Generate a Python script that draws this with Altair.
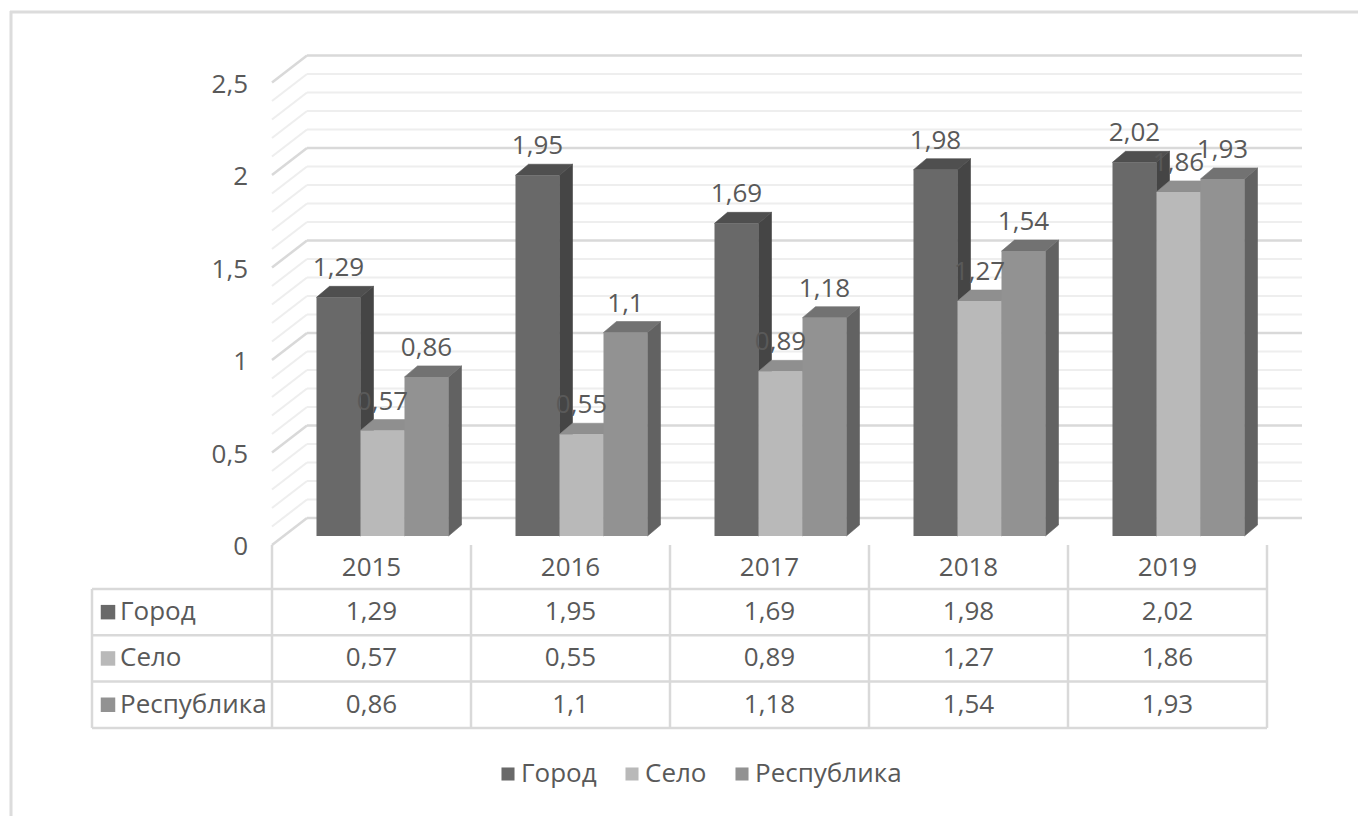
import altair as alt
import pandas as pd

# ---------------- data ----------------
years = ['2015', '2016', '2017', '2018', '2019']
series = ['Город', 'Село', 'Республика']
gorod = [1.29, 1.95, 1.69, 1.98, 2.02]
selo = [0.57, 0.55, 0.89, 1.27, 1.86]
respublika = [0.86, 1.1, 1.18, 1.54, 1.93]
axis_ticks = [0, 0.5, 1, 1.5, 2, 2.5]
axis_labels = ['0', '0,5', '1', '1,5', '2', '2,5']
grid_values = [round(k * 0.1, 1) for k in range(26)]

values_by_series = [gorod, selo, respublika]

# ---------------- style ----------------
front_colors = ['#696969', '#b9b9b9', '#929292']
top_colors = ['#4f4f4f', '#8f8f8f', '#727272']
side_colors = ['#454545', '#8a8a8a', '#626262']
TEXT = '#595959'
GRID_MAJOR = '#d9d9d9'
GRID_MINOR = '#eeeeee'
LINE = '#d9d9d9'
FONT = 'Open Sans'
FS = 26

W, H = 1358, 816
PX_X = 199.0      # pixels per category
PX_Y = 185.0      # pixels per value unit
X0_PX, Y0_PX = 283.0, 536.0


def ux(px):
    return (px - X0_PX) / PX_X


def vy(py):
    return (Y0_PX - py) / PX_Y


xs = alt.Scale(domain=[ux(0), ux(W)], nice=False, zero=False)
ys = alt.Scale(domain=[vy(H), vy(0)], nice=False, zero=False)

BW = 44 / PX_X          # bar width
DX, DY = 13 / PX_X, 11 / PX_Y   # bar depth
FX, FY = -11 / PX_X, 9 / PX_Y   # front plane offset (FY downward)
BX, BY = 24 / PX_X, 18 / PX_Y   # back wall offset
LBL = 29 / PX_Y

# ---------------- build tables ----------------
front_rows, side_rows, top_rows, label_rows = [], [], [], []
for i, yr in enumerate(years):
    for j, s in enumerate(series):
        v = values_by_series[j][i]
        x0 = i + 0.5 - 1.5 * BW + j * BW
        x1 = x0 + BW
        bid = f'{i}-{j}'
        front_rows.append(dict(series=s, x0=x0, x1=x1, lo=0.0, hi=v))
        side_rows.append(dict(bid=bid, c=side_colors[j], x=x1, lo=0.0, hi=v))
        side_rows.append(dict(bid=bid, c=side_colors[j], x=x1 + DX, lo=DY, hi=v + DY))
        top_rows.append(dict(bid=bid, c=top_colors[j], y=v, xa=x0, xb=x1))
        top_rows.append(dict(bid=bid, c=top_colors[j], y=v + DY, xa=x0 + DX, xb=x1 + DX))
        label_rows.append(dict(x=(x0 + x1) / 2, y=v + LBL, t=str(v).replace('.', ',')))

df_front = pd.DataFrame(front_rows)
df_side = pd.DataFrame(side_rows)
df_top = pd.DataFrame(top_rows)
df_lbl = pd.DataFrame(label_rows)

df_grid = pd.DataFrame({'v': grid_values})
df_grid['major'] = [k % 5 == 0 for k in range(len(grid_values))]
df_grid['xf'] = FX
df_grid['yf'] = df_grid['v'] - FY
df_grid['xb'] = BX
df_grid['xe'] = len(years) + BX
df_grid['yb'] = df_grid['v'] + BY

df_ticks = pd.DataFrame({'v': axis_ticks, 't': axis_labels})
df_ticks['x'] = ux(248)
df_ticks['y'] = df_ticks['v'] - FY

# table geometry
ROW_TOP = 589.0
ROW_H = 46.3
TBL_LEFT = ux(92)
TBL_RIGHT = len(years) + FX
row_bounds = [vy(ROW_TOP + k * ROW_H) for k in range(len(series) + 1)]

df_hlines = pd.DataFrame({'y': row_bounds, 'xa': TBL_LEFT, 'xb': TBL_RIGHT})
vl = [dict(x=k + FX, ya=-FY, yb=row_bounds[-1]) for k in range(len(years) + 1)]
vl.append(dict(x=TBL_LEFT, ya=row_bounds[0], yb=row_bounds[-1]))
df_vlines = pd.DataFrame(vl)

df_years = pd.DataFrame({'t': years, 'x': [i + 0.5 + FX for i in range(len(years))],
                         'y': vy(568)})
cell_rows = []
for j, s in enumerate(series):
    yc = vy(ROW_TOP + ROW_H * (j + 0.5))
    for i in range(len(years)):
        v = values_by_series[j][i]
        cell_rows.append(dict(x=i + 0.5 + FX, y=yc, t=str(v).replace('.', ',')))
df_cells = pd.DataFrame(cell_rows)
df_rowlab = pd.DataFrame({'t': series, 'c': front_colors,
                          'y': [vy(ROW_TOP + ROW_H * (j + 0.5)) for j in range(len(series))],
                          'xs': ux(108), 'xt': ux(120)})

# ---------------- layers ----------------
one = pd.DataFrame({'a': [0]})
border_l = alt.Chart(one).mark_rule(color='#dcdcdc', strokeWidth=3).encode(
    x=alt.value(11), y=alt.value(11), y2=alt.value(H))
border_t = alt.Chart(one).mark_rule(color='#dcdcdc', strokeWidth=3).encode(
    x=alt.value(10), x2=alt.value(W), y=alt.value(12))

def grid_layers(major, color, width):
    d = df_grid[df_grid['major'] == major]
    h = alt.Chart(d).mark_rule(color=color, strokeWidth=width).encode(
        x=alt.X('xb:Q', scale=xs, axis=None), x2='xe:Q',
        y=alt.Y('yb:Q', scale=ys, axis=None))
    dg = alt.Chart(d).mark_rule(color=color, strokeWidth=width).encode(
        x=alt.X('xf:Q', scale=xs, axis=None), x2='xb:Q',
        y=alt.Y('yf:Q', scale=ys, axis=None), y2='yb:Q')
    return [h, dg]

grid = grid_layers(False, GRID_MINOR, 2) + grid_layers(True, GRID_MAJOR, 2.5)

sides = alt.Chart(df_side).mark_area(orient='vertical', opacity=1, strokeWidth=0.6).encode(
    x=alt.X('x:Q', scale=xs, axis=None),
    y=alt.Y('lo:Q', scale=ys, axis=None, stack=None), y2='hi:Q',
    detail='bid:N',
    fill=alt.Fill('c:N', scale=None), stroke=alt.Stroke('c:N', scale=None))

tops = alt.Chart(df_top).mark_area(orient='horizontal', opacity=1, strokeWidth=0.6).encode(
    y=alt.Y('y:Q', scale=ys, axis=None),
    x=alt.X('xa:Q', scale=xs, axis=None, stack=None), x2='xb:Q',
    detail='bid:N',
    fill=alt.Fill('c:N', scale=None), stroke=alt.Stroke('c:N', scale=None))

fronts = alt.Chart(df_front).mark_rect(opacity=1).encode(
    x=alt.X('x0:Q', scale=xs, axis=None), x2='x1:Q',
    y=alt.Y('lo:Q', scale=ys, axis=None), y2='hi:Q',
    color=alt.Color('series:N', scale=alt.Scale(domain=series, range=front_colors),
                    legend=alt.Legend(orient='none', legendX=495, legendY=761,
                                      direction='horizontal', title=None,
                                      symbolType='square', symbolSize=170,
                                      symbolStrokeWidth=0, labelFont=FONT,
                                      labelFontSize=FS, labelColor=TEXT,
                                      labelOffset=0, columnPadding=22, padding=0)))

def text_layer(df, align='center', dy=0, xf='x', yf='y'):
    return alt.Chart(df).mark_text(font=FONT, fontSize=FS, color=TEXT, align=align,
                                   baseline='middle', dy=dy).encode(
        x=alt.X(f'{xf}:Q', scale=xs, axis=None),
        y=alt.Y(f'{yf}:Q', scale=ys, axis=None),
        text='t:N')

labels = text_layer(df_lbl)
ticks = text_layer(df_ticks, align='right', dy=2)

hlines = alt.Chart(df_hlines).mark_rule(color=LINE, strokeWidth=2.5).encode(
    x=alt.X('xa:Q', scale=xs, axis=None), x2='xb:Q',
    y=alt.Y('y:Q', scale=ys, axis=None))
vlines = alt.Chart(df_vlines).mark_rule(color=LINE, strokeWidth=2.5).encode(
    x=alt.X('x:Q', scale=xs, axis=None),
    y=alt.Y('ya:Q', scale=ys, axis=None), y2='yb:Q')

yr_text = text_layer(df_years)
cell_text = text_layer(df_cells)
row_sq = alt.Chart(df_rowlab).mark_square(size=210, opacity=1).encode(
    x=alt.X('xs:Q', scale=xs, axis=None),
    y=alt.Y('y:Q', scale=ys, axis=None),
    fill=alt.Fill('c:N', scale=None))
row_text = text_layer(df_rowlab, align='left', xf='xt')

chart = alt.layer(
    border_l, border_t, *grid, sides, tops, fronts, labels, ticks,
    hlines, vlines, yr_text, cell_text, row_sq, row_text
).properties(
    width=W, height=H, padding=0,
    autosize=alt.AutoSizeParams(type='none'),
    background='white'
).configure_view(strokeWidth=0)

chart.save('out.html', embed_options={'renderer': 'svg', 'actions': False})
